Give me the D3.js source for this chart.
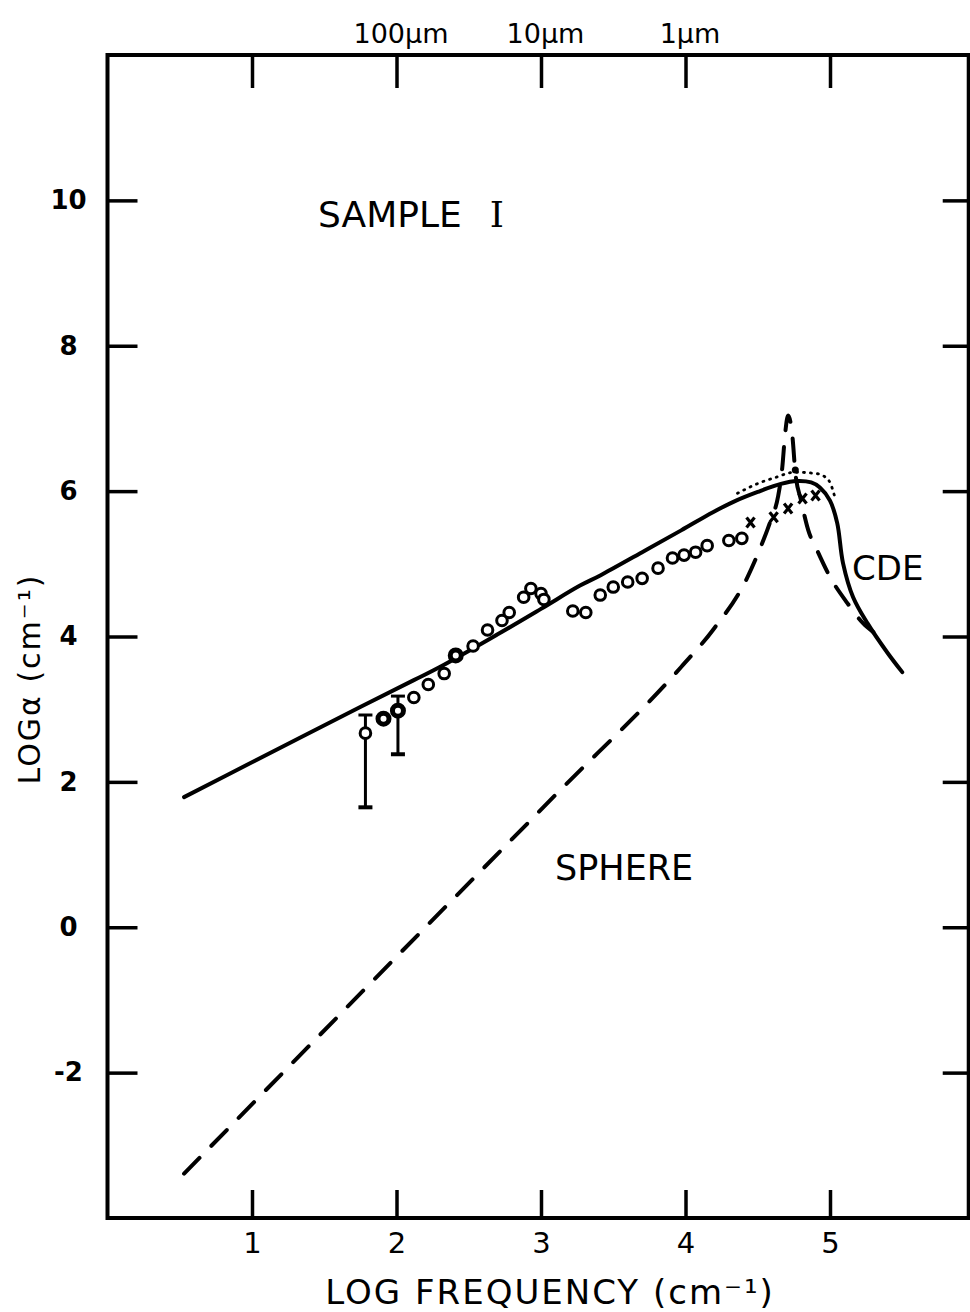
<!DOCTYPE html>
<html>
<head>
<meta charset="utf-8">
<script src="https://cdn.jsdelivr.net/npm/d3@7"></script>
<style>
  html, body { margin: 0; padding: 0; background: #fff; }
  svg text { font-family: "DejaVu Sans", sans-serif; fill: #000; }
</style>
</head>
<body>
<svg id="chart" width="970" height="1312"></svg>
<script>
// tick values and labels
const xTicks = [1, 2, 3, 4, 5];
const yTicks = [-2, 0, 2, 4, 6, 8, 10];
const topTickLabels = ["", "100µm", "10µm", "1µm", ""];

// CDE calculation (solid)
const cdeCurve = [
  [0.53, 1.79], [1.0, 2.27], [1.61, 2.89], [2.12, 3.40], [2.30, 3.58],
  [2.70, 4.03], [3.00, 4.38], [3.27, 4.70], [3.41, 4.84], [3.70, 5.16],
  [3.97, 5.46], [4.19, 5.71], [4.35, 5.87], [4.50, 5.99], [4.66, 6.10],
  [4.77, 6.14], [4.87, 6.12], [4.93, 6.05], [5.00, 5.87], [5.05, 5.56],
  [5.09, 5.01], [5.16, 4.54], [5.26, 4.18], [5.40, 3.77], [5.50, 3.51]
];

// sphere calculation (dashed)
const sphereCurve = [
  [0.53, -3.39], [1.84, -0.73], [3.11, 1.84], [3.97, 3.58], [4.19, 4.09],
  [4.43, 4.82], [4.52, 5.23], [4.59, 5.60], [4.64, 5.92], [4.67, 6.33],
  [4.69, 6.80], [4.71, 7.04], [4.74, 6.75], [4.76, 6.26], [4.80, 5.87],
  [4.85, 5.46], [4.91, 5.19], [5.00, 4.82], [5.12, 4.46], [5.23, 4.18],
  [5.30, 4.06]
];

// dotted curve near the peak
const dottedCurve = [
  [4.36, 5.97], [4.52, 6.12], [4.61, 6.18], [4.76, 6.26], [4.91, 6.24],
  [4.99, 6.15], [5.04, 5.87]
];

// measured points (open circles)
const pointsX = [1.785, 1.91, 2.01, 2.12, 2.22, 2.33, 2.41, 2.53, 2.63, 2.73, 2.78,
  2.88, 2.93, 3.00, 3.02, 3.22, 3.31, 3.41, 3.50, 3.60, 3.70, 3.81, 3.91, 3.99,
  4.07, 4.15, 4.30, 4.39];
const pointsY = [2.67, 2.87, 2.98, 3.16, 3.34, 3.49, 3.74, 3.87, 4.09, 4.22, 4.33,
  4.54, 4.66, 4.59, 4.51, 4.35, 4.33, 4.57, 4.68, 4.75, 4.80, 4.94, 5.08, 5.12,
  5.16, 5.25, 5.32, 5.35];
const boldPointsX = [1.91, 2.01, 2.41];

// error bars: x, low, high
const errorBars = [[1.785, 1.65, 2.92], [2.01, 2.38, 3.18]];

// crosses
const crossX = [4.45, 4.61, 4.71, 4.81, 4.90];
const crossY = [5.57, 5.64, 5.76, 5.90, 5.94];

// peak dot on dotted curve
const peakDot = [[4.76, 6.29]];

const svg = d3.select("#chart");

const x = d3.scaleLinear().domain([0, 6]).range([107.5, 974.5]);
const y = d3.scaleLinear().domain([-4, 12]).range([1218, 55]);
const xRight = 5.96;

const line = d3.line()
  .x(d => x(d[0]))
  .y(d => y(d[1]))
  .curve(d3.curveMonotoneX);

const smoothLine = d3.line()
  .x(d => x(d[0]))
  .y(d => y(d[1]))
  .curve(d3.curveCatmullRom.alpha(0.5));

// frame
svg.append("rect")
  .attr("x", x(0)).attr("y", y(12))
  .attr("width", x(xRight) - x(0)).attr("height", y(-4) - y(12))
  .attr("fill", "none").attr("stroke", "#000").attr("stroke-width", 4);

// axes (ticks inside frame)
const bottomAxis = svg.append("g")
  .attr("transform", `translate(0,${y(-4)})`)
  .call(d3.axisBottom(x).tickValues(xTicks).tickSize(-28).tickPadding(14).tickFormat(d => String(d)));
const topAxis = svg.append("g")
  .attr("transform", `translate(0,${y(12)})`)
  .call(d3.axisTop(x).tickValues(xTicks).tickSize(-33).tickPadding(12)
    .tickFormat((d, i) => topTickLabels[i]));
const leftAxis = svg.append("g")
  .attr("transform", `translate(${x(0)},0)`)
  .call(d3.axisLeft(y).tickValues(yTicks).tickSize(-30).tickPadding(38).tickFormat(d => String(d)));
const rightAxis = svg.append("g")
  .attr("transform", `translate(${x(xRight)},0)`)
  .call(d3.axisRight(y).tickValues(yTicks).tickSize(-26).tickFormat(""));

[bottomAxis, topAxis, leftAxis, rightAxis].forEach(g => {
  g.select(".domain").remove();
  g.selectAll(".tick line").attr("stroke", "#000").attr("stroke-width", 3.5);
  g.selectAll("text").attr("fill", "#000").style("font-family", "DejaVu Sans, sans-serif");
});
bottomAxis.selectAll("text").style("font-size", "29px");
topAxis.selectAll("text").style("font-size", "27px").attr("dx", 4);
leftAxis.selectAll("text")
  .style("font-size", "26px").style("font-weight", "bold")
  .attr("text-anchor", "middle").attr("x", -39);

// curves
svg.append("path").datum(cdeCurve)
  .attr("d", smoothLine).attr("fill", "none").attr("stroke", "#000")
  .attr("stroke-width", 4).attr("stroke-linecap", "round").attr("stroke-linejoin", "round");

svg.append("path").datum(sphereCurve)
  .attr("d", line).attr("fill", "none").attr("stroke", "#000")
  .attr("stroke-width", 4).attr("stroke-dasharray", "22,17").attr("stroke-linecap", "round");

svg.append("path").datum(dottedCurve)
  .attr("d", line).attr("fill", "none").attr("stroke", "#000")
  .attr("stroke-width", 2.8).attr("stroke-dasharray", "1,6").attr("stroke-linecap", "round");

svg.selectAll("circle.peak").data(peakDot).enter().append("circle")
  .attr("class", "peak")
  .attr("cx", d => x(d[0])).attr("cy", d => y(d[1])).attr("r", 3.5).attr("fill", "#000");

// error bars
const eb = svg.selectAll("g.err").data(errorBars).enter().append("g").attr("class", "err");
eb.append("line")
  .attr("x1", d => x(d[0])).attr("x2", d => x(d[0]))
  .attr("y1", d => y(d[1])).attr("y2", d => y(d[2]))
  .attr("stroke", "#000").attr("stroke-width", 3);
eb.append("line")
  .attr("x1", d => x(d[0]) - 7).attr("x2", d => x(d[0]) + 7)
  .attr("y1", d => y(d[1])).attr("y2", d => y(d[1]))
  .attr("stroke", "#000").attr("stroke-width", 4);
eb.append("line")
  .attr("x1", d => x(d[0]) - 7).attr("x2", d => x(d[0]) + 7)
  .attr("y1", d => y(d[2])).attr("y2", d => y(d[2]))
  .attr("stroke", "#000").attr("stroke-width", 3);

// data circles
svg.selectAll("circle.pt").data(pointsX).enter().append("circle")
  .attr("class", "pt")
  .attr("cx", d => x(d)).attr("cy", (d, i) => y(pointsY[i]))
  .attr("r", d => boldPointsX.includes(d) ? 5.5 : 5.3)
  .attr("fill", "#fff").attr("stroke", "#000")
  .attr("stroke-width", d => boldPointsX.includes(d) ? 5 : 3);

// crosses
const cr = svg.selectAll("g.cross").data(crossX).enter().append("g")
  .attr("class", "cross")
  .attr("transform", (d, i) => `translate(${x(d)},${y(crossY[i])})`);
cr.append("path").attr("d", "M-4,-5L4,5M4,-5L-4,5")
  .attr("stroke", "#000").attr("stroke-width", 3.2);

// annotations
const sample = svg.append("text").attr("x", 318).attr("y", 227).style("font-size", "36px");
sample.append("tspan").text("SAMPLE");
sample.append("tspan").attr("dx", 28).style("font-family", "DejaVu Serif, serif").text("I");

svg.append("text").attr("x", 852).attr("y", 580).style("font-size", "34px").text("CDE");
svg.append("text").attr("x", 555).attr("y", 880).style("font-size", "35px").text("SPHERE");

// axis titles
svg.append("text")
  .attr("x", (x(0) + x(xRight)) / 2 + 12).attr("y", 1304)
  .attr("text-anchor", "middle")
  .style("font-size", "34px").style("letter-spacing", "2px")
  .text("LOG FREQUENCY  (cm⁻¹)");

svg.append("text")
  .attr("transform", "translate(40,679) rotate(-90)")
  .attr("text-anchor", "middle")
  .style("font-size", "30px").style("letter-spacing", "2px")
  .text("LOGα  (cm⁻¹)");
</script>
</body>
</html>
